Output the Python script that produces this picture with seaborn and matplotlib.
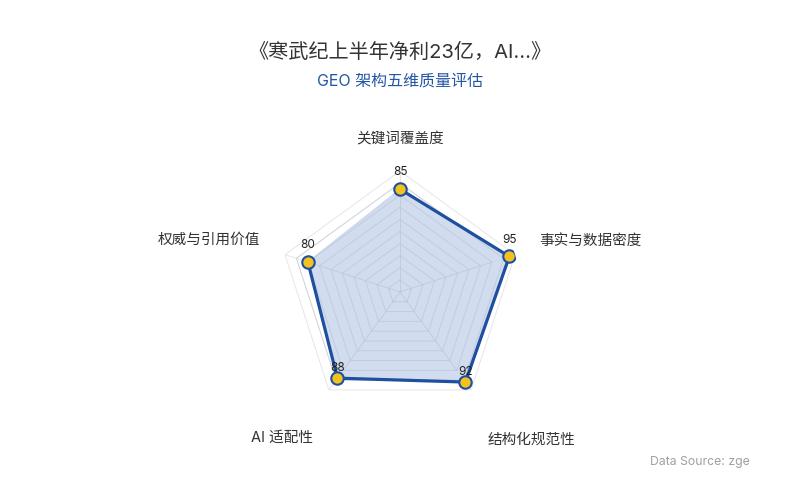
import numpy as np
import pandas as pd
import seaborn as sns
import matplotlib
matplotlib.use('Agg')
import matplotlib.pyplot as plt

# data
dimensions = ['关键词覆盖度', '事实与数据密度', '结构化规范性', 'AI 适配性', '权威与引用价值']
scores = [85, 95, 92, 88, 80]
max_score = 100
grid_levels = [10, 20, 30, 40, 50, 60, 70, 80, 90, 100]

title = '《寒武纪上半年净利23亿，AI...》'
subtitle = 'GEO 架构五维质量评估'
source = 'Data Source: zge'

sns.set_theme(style='white')
plt.rcParams['font.family'] = ['Inter', 'Noto Sans CJK SC', 'DejaVu Sans']

line_color = '#1f4fa0'
fill_color = '#c7d4eb'
point_color = '#f4c21f'

n = len(dimensions)
angles = np.arange(n) * 2 * np.pi / n
df = pd.DataFrame({'angle': np.append(angles, angles[0]),
                   'score': np.append(scores, scores[0])})

fig = plt.figure(figsize=(8, 5), dpi=100)
# centre at (400, 292) px, radius 121 px
ax = fig.add_axes([279 / 800, 1 - 413 / 500, 242 / 800, 242 / 500], projection='polar')
ax.set_theta_offset(np.pi / 2)
ax.set_theta_direction(-1)
ax.set_ylim(0, max_score)
ax.grid(False)
ax.spines['polar'].set_visible(False)
ax.set_xticks([])
ax.set_yticks([])
ax.patch.set_alpha(0)

# pentagon grid
ring_angles = np.append(angles, angles[0])
for lvl in grid_levels:
    ax.plot(ring_angles, [lvl] * (n + 1), color='#e6e6e6', lw=0.7, zorder=1)
for a in angles:
    ax.plot([a, a], [0, max_score], color='#e6e6e6', lw=0.7, zorder=1)

# data shape
ax.fill(df['angle'], df['score'], color=fill_color, alpha=0.8, zorder=2)
for lvl in grid_levels[:-1]:
    ax.plot(ring_angles, [lvl] * (n + 1), color='#b9c3d6', lw=0.6, alpha=0.6, zorder=2.5)
for a in angles:
    ax.plot([a, a], [0, max_score * 0.8], color='#b9c3d6', lw=0.6, alpha=0.6, zorder=2.5)
sns.lineplot(data=df, x='angle', y='score', sort=False, color=line_color,
             lw=2.3, ax=ax, zorder=3, legend=False)
sns.scatterplot(x=angles, y=scores, color=point_color, edgecolor=line_color,
                linewidth=1.5, s=80, ax=ax, zorder=4, legend=False)
ax.set_xlabel('')
ax.set_ylabel('')

for a, v in zip(angles, scores):
    dy = 7 if np.cos(a) < 0 else 12
    ax.annotate(str(v), (a, v), xytext=(0, dy), textcoords='offset points',
                ha='center', va='center', fontsize=8.5, color='#222222', zorder=5)

# axis names
name_pos = [(400, 139), (590, 241), (531, 440), (282, 438), (209, 240)]
for name, (px, py) in zip(dimensions, name_pos):
    fig.text(px / 800, 1 - py / 500, name, ha='center', va='center',
             fontsize=10.5, color='#333333')

fig.text(0.5, 1 - 52 / 500, title, ha='center', va='center', fontsize=14.5, color='#333333')
fig.text(0.5, 1 - 81 / 500, subtitle, ha='center', va='center', fontsize=11.5, color='#2456a4')
fig.text(650 / 800, 1 - 462 / 500, source, ha='left', va='center', fontsize=8.8, color='#a0a0a0')

fig.savefig('out.png', dpi=100)
